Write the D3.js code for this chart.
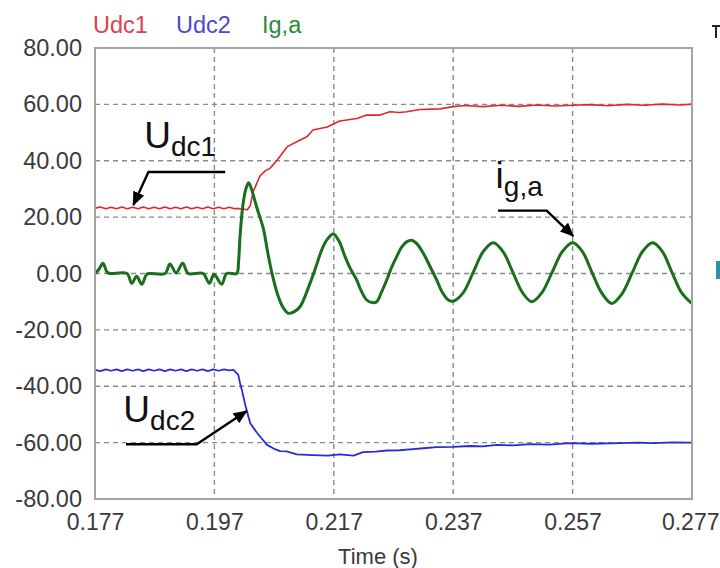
<!DOCTYPE html>
<html>
<head>
<meta charset="utf-8">
<script src="https://cdn.jsdelivr.net/npm/d3@7/dist/d3.min.js"></script>
<style>
  html, body { margin: 0; padding: 0; background: #ffffff; }
  svg { display: block; font-family: "Liberation Sans", Arial, sans-serif; }
</style>
</head>
<body>
<svg id="chart" width="720" height="568"></svg>
<script>
// ---- axis ticks ----
const xTicks = [0.177, 0.197, 0.217, 0.237, 0.257, 0.277];
const xTickLabels = ["0.177", "0.197", "0.217", "0.237", "0.257", "0.277"];
const yTicks = [80, 60, 40, 20, 0, -20, -40, -60, -80];
const yTickLabels = ["80.00", "60.00", "40.00", "20.00", "0.00", "-20.00", "-40.00", "-60.00", "-80.00"];
const seriesNames = ["Udc1", "Udc2", "Ig,a"];

// ---- Udc1 : [time (s), value] ----
const udc1 = [
  [0.1770, 23.2], [0.1779, 23.6], [0.1788, 23.0], [0.1797, 23.5], [0.1806, 23.0],
  [0.1815, 23.6], [0.1824, 23.0], [0.1833, 23.5], [0.1842, 23.0], [0.1851, 23.6],
  [0.1860, 23.0], [0.1869, 23.5], [0.1878, 23.0], [0.1887, 23.6], [0.1896, 23.0],
  [0.1905, 23.5], [0.1914, 23.0], [0.1923, 23.6], [0.1932, 23.0], [0.1941, 23.5],
  [0.1950, 23.0], [0.1959, 23.6], [0.1968, 23.0], [0.1977, 23.5], [0.1986, 23.0],
  [0.1995, 23.5], [0.2004, 23.0], [0.2013, 23.0], [0.2020, 22.8], [0.2025, 22.6],
  [0.2030, 24.0], [0.2035, 29.0], [0.2046, 34.5], [0.2055, 36.4], [0.2063, 37.3],
  [0.2075, 40.2], [0.2092, 45.0], [0.2113, 47.3], [0.2125, 48.5], [0.2135, 50.9],
  [0.2159, 52.0], [0.2172, 53.3], [0.2180, 54.1], [0.2209, 55.0], [0.2225, 56.2],
  [0.2247, 56.2], [0.2264, 57.4], [0.2280, 57.1], [0.2292, 57.4], [0.2314, 58.2],
  [0.2348, 58.4], [0.2370, 59.2], [0.2390, 59.6], [0.2420, 59.2], [0.2450, 59.7],
  [0.2480, 59.3], [0.2510, 59.8], [0.2540, 59.4], [0.2570, 59.7], [0.2600, 59.9],
  [0.2630, 59.5], [0.2660, 60.0], [0.2690, 59.7], [0.2720, 60.1], [0.2750, 59.8],
  [0.2770, 60.1]
];

// ---- Udc2 : [time (s), value] ----
const udc2 = [
  [0.1770, -34.2], [0.1779, -34.6], [0.1788, -34.0], [0.1797, -34.5], [0.1806, -34.0],
  [0.1815, -34.6], [0.1824, -34.0], [0.1833, -34.5], [0.1842, -34.0], [0.1851, -34.6],
  [0.1860, -34.0], [0.1869, -34.5], [0.1878, -34.0], [0.1887, -34.6], [0.1896, -34.0],
  [0.1905, -34.5], [0.1914, -34.0], [0.1923, -34.6], [0.1932, -34.0], [0.1941, -34.5],
  [0.1950, -34.0], [0.1959, -34.6], [0.1968, -34.0], [0.1977, -34.5], [0.1986, -34.0],
  [0.1995, -34.4], [0.2002, -34.2], [0.2010, -36.0], [0.2013, -38.9], [0.2016, -41.3],
  [0.2021, -46.0], [0.2024, -48.4], [0.2030, -53.1], [0.2041, -56.4], [0.2058, -60.8],
  [0.2070, -62.2], [0.2080, -63.0], [0.2091, -63.1], [0.2108, -64.2], [0.2135, -64.4],
  [0.2160, -64.6], [0.2180, -64.2], [0.2203, -64.6], [0.2219, -63.4], [0.2240, -63.2],
  [0.2259, -62.8], [0.2280, -62.7], [0.2303, -62.3], [0.2320, -62.0], [0.2342, -61.6],
  [0.2370, -61.5], [0.2398, -61.2], [0.2420, -61.3], [0.2443, -60.8], [0.2470, -61.0],
  [0.2499, -60.5], [0.2530, -60.7], [0.2566, -60.2], [0.2600, -60.4], [0.2649, -60.2],
  [0.2680, -60.0], [0.2705, -60.2], [0.2740, -59.9], [0.2770, -60.0]
];

// ---- Ig,a : [time (s), value] ----
const iga = [
  [0.17700, 0.0], [0.17767, 1.5], [0.17834, 3.6], [0.17901, 0.5], [0.17951, 0.0],
  [0.18236, 0.0], [0.18315, -3.5], [0.18398, -1.0], [0.18482, -3.8], [0.18566, -0.3],
  [0.18621, 0.0], [0.18873, 0.0], [0.18956, 3.4], [0.19057, 0.2], [0.19169, 3.6],
  [0.19263, 0.0], [0.19509, 0.0], [0.19615, -3.5], [0.19693, -0.3], [0.19822, -3.8],
  [0.19906, 0.0], [0.20074, 0.0], [0.20104, 4.0], [0.20129, 13.0], [0.20174, 23.7],
  [0.20221, 29.5], [0.20271, 32.2], [0.20313, 30.5], [0.20409, 23.5], [0.20519, 16.0],
  [0.20589, 8.0], [0.20660, 0.5], [0.20770, -8.2], [0.20849, -12.0], [0.20938, -14.1],
  [0.21033, -13.6], [0.21134, -11.8], [0.21301, -3.5], [0.21402, 2.5], [0.21497, 8.3],
  [0.21586, 12.0], [0.21692, 14.0], [0.21787, 11.5], [0.21888, 6.0], [0.21971, 2.0],
  [0.22084, -2.3], [0.22156, -6.0], [0.22251, -9.4], [0.22340, -10.3], [0.22419, -10.0],
  [0.22491, -7.0], [0.22586, -2.3], [0.22675, 2.5], [0.22754, 6.0], [0.22842, 9.5],
  [0.22926, 11.3], [0.23005, 11.8], [0.23094, 10.5], [0.23199, 7.2], [0.23312, 2.5],
  [0.23424, -2.3], [0.23512, -6.5], [0.23618, -9.4], [0.23702, -9.8], [0.23869, -6.8],
  [0.24037, 0.5], [0.24204, 7.8], [0.24372, 10.9], [0.24539, 7.6], [0.24700, 0.4],
  [0.24861, -6.8], [0.25015, -10.0], [0.25186, -6.8], [0.25358, 0.5], [0.25529, 7.8],
  [0.25702, 10.9], [0.25864, 7.8], [0.26028, 0.2], [0.26191, -7.0], [0.26355, -10.6],
  [0.26527, -7.2], [0.26698, 0.2], [0.26871, 7.8], [0.27042, 10.9], [0.27204, 7.8],
  [0.27368, 0.2], [0.27531, -7.0], [0.27695, -10.6]
];

// ---- annotations: label anchor + arrow path, in data units ----
const annotations = [
  { main: "U", sub: "dc1", at: [0.18525, 44.5], arrow: [[0.19880, 36.0], [0.18595, 36.0], [0.18342, 24.3]] },
  { main: "i", sub: "g,a", at: [0.24410, 30.3], arrow: [[0.24450, 22.3], [0.25266, 22.3], [0.25712, 13.3]] },
  { main: "U", sub: "dc2", at: [0.18175, -52.6], arrow: [[0.18219, -60.6], [0.19404, -60.6], [0.20241, -48.8]] }
];

const colors = { udc1: "#e3262c", udc2: "#2b2bd6", iga: "#186f1c" };
const legendColors = ["#e0404c", "#4a4ad0", "#2a8a36"];

const svg = d3.select("#chart");
const margin = { left: 95, right: 28, top: 48, bottom: 69 };
const W = 720, H = 568;

const x = d3.scaleLinear().domain([0.177, 0.277]).range([margin.left, W - margin.right]);
const y = d3.scaleLinear().domain([-80, 80]).range([H - margin.bottom, margin.top]);

// grid
const grid = svg.append("g").attr("stroke", "#8a8a8a").attr("stroke-width", 1.4)
  .attr("stroke-dasharray", "5,4");
grid.selectAll("line.h").data(yTicks.filter(v => v > -80 && v < 80)).join("line")
  .attr("x1", x.range()[0]).attr("x2", x.range()[1])
  .attr("y1", d => y(d)).attr("y2", d => y(d));
grid.selectAll("line.v").data(xTicks.filter(t => t > 0.177 && t < 0.277)).join("line")
  .attr("x1", d => x(d)).attr("x2", d => x(d))
  .attr("y1", y.range()[1]).attr("y2", y.range()[0]);

// axes
const yAxis = d3.axisLeft(y).tickValues(yTicks)
  .tickFormat((d, i) => yTickLabels[i]).tickSize(0).tickPadding(13);
const gy = svg.append("g").attr("transform", `translate(${margin.left},0)`).call(yAxis);
gy.select(".domain").remove();
gy.selectAll("text").attr("font-size", 23.5).attr("fill", "#3a3a3a")
  .attr("font-family", "Liberation Sans, Arial, sans-serif");

const xAxis = d3.axisBottom(x).tickValues(xTicks)
  .tickFormat((d, i) => xTickLabels[i]).tickSize(0).tickPadding(15);
const gx = svg.append("g").attr("transform", `translate(0,${y(-80)})`).call(xAxis);
gx.select(".domain").remove();
gx.selectAll("text").attr("font-size", 23).attr("fill", "#3a3a3a")
  .attr("font-family", "Liberation Sans, Arial, sans-serif");
// keep the last label inside the page edge
gx.selectAll(".tick").filter(d => d === xTicks[xTicks.length - 1]).select("text")
  .attr("text-anchor", "end").attr("dx", 27);

svg.append("text").attr("x", 378).attr("y", 564).attr("text-anchor", "middle")
  .attr("font-size", 22).attr("fill", "#3a3a3a").text("Time (s)");

// series
const line = d3.line().x(d => x(d[0])).y(d => y(d[1]));
const smooth = d3.line().x(d => x(d[0])).y(d => y(d[1])).curve(d3.curveCatmullRom.alpha(0.5));

svg.append("path").datum(udc1).attr("d", line).attr("fill", "none")
  .attr("stroke", colors.udc1).attr("stroke-width", 1.6).attr("stroke-linejoin", "round");
svg.append("path").datum(udc2).attr("d", line).attr("fill", "none")
  .attr("stroke", colors.udc2).attr("stroke-width", 1.8).attr("stroke-linejoin", "round");
svg.append("path").datum(iga).attr("d", smooth).attr("fill", "none")
  .attr("stroke", colors.iga).attr("stroke-width", 3).attr("stroke-linejoin", "round");

// frame
svg.append("rect").attr("x", x.range()[0]).attr("y", y.range()[1])
  .attr("width", x.range()[1] - x.range()[0]).attr("height", y.range()[0] - y.range()[1])
  .attr("fill", "none").attr("stroke", "#a3a3a3").attr("stroke-width", 2);

// legend
const legendX = [93, 176, 262];
svg.append("g").selectAll("text").data(seriesNames).join("text")
  .attr("x", (d, i) => legendX[i]).attr("y", 33)
  .attr("font-size", 23.5).attr("fill", (d, i) => legendColors[i]).text(d => d);

// annotation arrows
svg.append("defs").append("marker")
  .attr("id", "head").attr("markerUnits", "userSpaceOnUse")
  .attr("viewBox", "0 0 14 12").attr("refX", 13).attr("refY", 6)
  .attr("markerWidth", 14).attr("markerHeight", 12).attr("orient", "auto")
  .append("path").attr("d", "M0,0 L14,6 L0,12 Z").attr("fill", "#000");

const ann = svg.append("g");
annotations.forEach(a => {
  ann.append("path").datum(a.arrow).attr("d", line).attr("fill", "none")
    .attr("stroke", "#000").attr("stroke-width", 2.4).attr("marker-end", "url(#head)");
  const t = ann.append("text").attr("x", x(a.at[0])).attr("y", y(a.at[1])).attr("fill", "#111");
  t.append("tspan").attr("font-size", 37).text(a.main);
  t.append("tspan").attr("font-size", 28).attr("dy", 8).text(a.sub);
});

// fragments of a neighbouring panel at the right edge
svg.append("path").attr("d", "M712,26 L720,26 M716,26 L716,38")
  .attr("stroke", "#222").attr("stroke-width", 2).attr("fill", "none");
svg.append("rect").attr("x", 716).attr("y", 261).attr("width", 6).attr("height", 18).attr("fill", "#2f93a3");
</script>
</body>
</html>
